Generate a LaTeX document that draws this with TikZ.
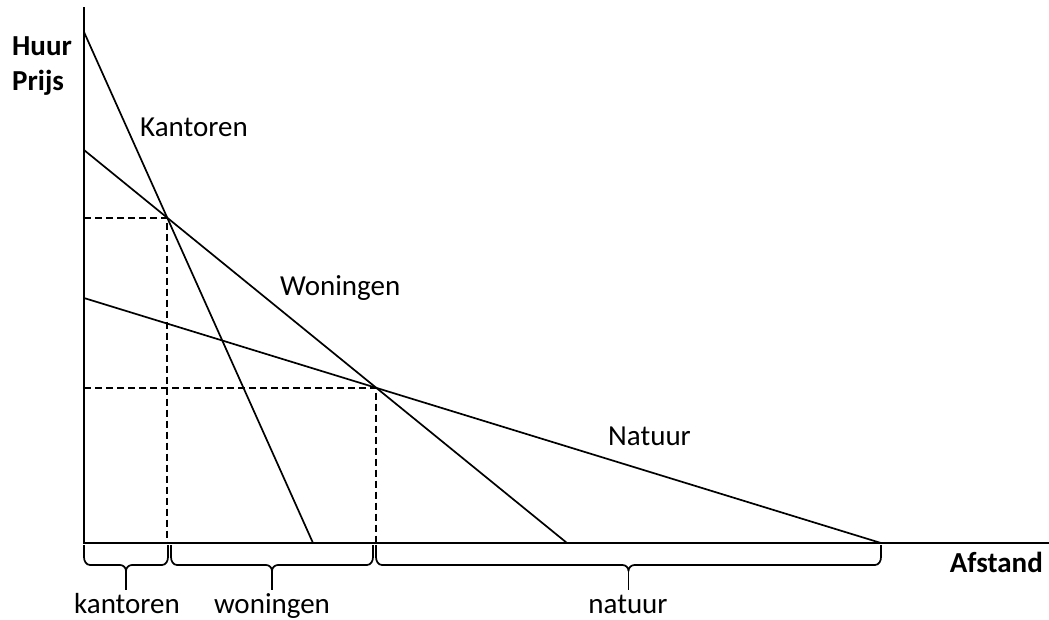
\documentclass[tikz,border=0pt]{standalone}
\usepackage{fontspec}
\setmainfont{Carlito}
\usetikzlibrary{intersections}
\begin{document}
\begin{tikzpicture}[x=1pt,y=-1pt,
  axis/.style={line width=1.8pt},
  curve/.style={line width=1.7pt},
  guide/.style={line width=1.7pt,dash pattern=on 7pt off 4pt},
  brace/.style={line width=1.7pt,line join=round},
  lbl/.style={font=\fontsize{29}{34}\selectfont,inner sep=0pt,anchor=base west},
  blbl/.style={font=\fontsize{29}{34}\selectfont,inner sep=0pt,anchor=base},
  axlbl/.style={font=\fontsize{29}{34}\selectfont\bfseries,inner sep=0pt}]
\useasboundingbox (0,0) rectangle (1049,619);
% axes
\coordinate (O) at (84,543);
\coordinate (ytop) at (84,7);
\coordinate (xend) at (1049,543);
\draw[axis] (ytop) -- (O) -- (xend);
% lines
\coordinate (k0) at (84,32);
\coordinate (k1) at (313,543);
\coordinate (w0) at (84,150);
\coordinate (w1) at (567,543);
\coordinate (n0) at (84,298);
\coordinate (n1) at (881,543);
\draw[curve,name path=kan] (k0) -- (k1);
\draw[curve,name path=won] (w0) -- (w1);
\draw[curve,name path=nat] (n0) -- (n1);
\path[name intersections={of=kan and won,by=A}];
\path[name intersections={of=won and nat,by=B}];
\coordinate (Ay) at (O |- A);
\coordinate (Ax) at (A |- O);
\coordinate (By) at (O |- B);
\coordinate (Bx) at (B |- O);
\draw[guide] (Ay) -- (A) -- (Ax);
\draw[guide] (By) -- (B) -- (Bx);
% braces
\newcommand\mybrace[2]{%
  \pgfmathsetmacro\bm{(#1+#2)/2}%
  \pgfmathsetmacro\bl{\bm-6}%
  \pgfmathsetmacro\br{\bm+6}%
  \pgfmathsetmacro\ba{#1+6}%
  \pgfmathsetmacro\bb{#2-6}%
  \draw[brace] (#1,545) -- (#1,557) to[out=-90,in=180] (\ba,565) -- (\bl,565)
     to[out=0,in=90] (\bm,571) to[out=90,in=180] (\br,565) -- (\bb,565)
     to[out=0,in=-90] (#2,557) -- (#2,545);
  \draw[brace] (\bm,571) -- (\bm,590);}
\mybrace{84}{168}
\mybrace{171}{373}
\mybrace{376}{881}
\node[blbl] (lk) at (127,613) {kantoren};
\node[blbl] (lw) at (272,613) {woningen};
\node[blbl] (ln) at (628,613) {natuur};
% curve labels
\node[lbl] (tk) at (140,136) {Kantoren};
\node[lbl] (tw) at (280,295) {Woningen};
\node[lbl] (tn) at (608,445) {Natuur};
% axis labels
\node[axlbl,anchor=base west] (yl) at (12,55) {Huur};
\node[axlbl,anchor=base west] (yl2) at (12,90) {Prijs};
\node[axlbl,anchor=base east] (xl) at (1043,572) {Afstand};
\end{tikzpicture}
\end{document}
